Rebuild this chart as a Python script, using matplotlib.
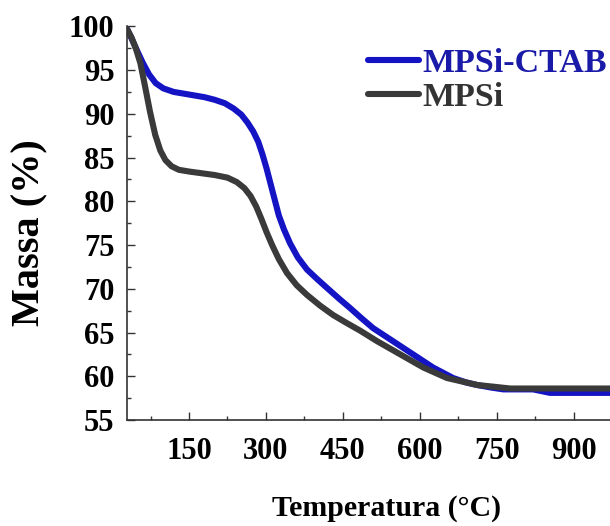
import matplotlib
matplotlib.use("Agg")
import matplotlib.pyplot as plt
from matplotlib.ticker import MultipleLocator

# Data (temperature in °C, mass in %)
temp_ctab = [29, 38, 48, 60, 72, 85, 100, 120, 140, 160, 180, 200, 220, 237, 252, 264, 275,
             285, 293, 301, 309, 317, 325, 335, 347, 362, 380, 400, 419, 442, 464, 487, 509,
             548, 587, 626, 665, 690, 712, 740, 763, 790, 821, 854, 890, 919, 971]
mass_ctab = [99.7, 98.6, 97.3, 95.8, 94.5, 93.5, 92.9, 92.5, 92.3, 92.1, 91.9, 91.6, 91.2, 90.6, 89.9,
             89.0, 88.0, 86.8, 85.4, 83.8, 82.0, 80.2, 78.4, 76.8, 75.2, 73.6, 72.2, 71.1, 70.1, 68.9,
             67.8, 66.6, 65.5, 64.0, 62.5, 61.0, 59.8, 59.3, 59.0, 58.7, 58.5, 58.5, 58.5, 58.1, 58.1,
             58.1, 58.1]

temp_mpsi = [29, 38, 46, 55, 64, 74, 84, 94, 104, 116, 130, 150, 175, 200, 225, 243, 258, 270,
             281, 291, 301, 312, 325, 341, 360, 380, 405, 431, 457, 484, 517, 562, 607, 653,
             690, 712, 745, 776, 820, 854, 900, 971]
mass_mpsi = [99.7, 98.7, 97.5, 95.8, 93.2, 90.2, 87.6, 85.8, 84.7, 84.0, 83.6, 83.4, 83.2, 83.0, 82.7,
             82.2, 81.5, 80.6, 79.4, 78.0, 76.5, 75.0, 73.4, 71.8, 70.4, 69.3, 68.1, 67.0, 66.1,
             65.2, 64.0, 62.5, 61.0, 59.8, 59.3, 59.0, 58.8, 58.6, 58.6, 58.6, 58.6, 58.6]

series_labels = ["MPSi-CTAB", "MPSi"]
x_ticks = [150, 300, 450, 600, 750, 900]
y_ticks = [55, 60, 65, 70, 75, 80, 85, 90, 95, 100]

blue = "#1414c4"
gray = "#3a3a3a"

plt.rcParams["font.family"] = ["Liberation Serif", "DejaVu Serif"]
plt.rcParams["font.weight"] = "bold"

fig = plt.figure(figsize=(6.1, 5.26), dpi=100)
ax = fig.add_axes([127 / 610, 1 - 420 / 526, 1 - 127 / 610, (420 - 26.3) / 526])

l1, = ax.plot(temp_ctab, mass_ctab, color=blue, lw=4.4, solid_capstyle="round",
              solid_joinstyle="round")
l2, = ax.plot(temp_mpsi, mass_mpsi, color=gray, lw=4.4, solid_capstyle="round",
              solid_joinstyle="round")

ax.set_xlim(29, 971)
ax.set_ylim(55, 100)
ax.set_xticks(x_ticks)
ax.set_yticks(y_ticks)
ax.xaxis.set_minor_locator(MultipleLocator(75))
ax.yaxis.set_minor_locator(MultipleLocator(2.5))

for s in ["top", "right"]:
    ax.spines[s].set_visible(False)
for s in ["left", "bottom"]:
    ax.spines[s].set_color("#333333")
    ax.spines[s].set_linewidth(1.2)

ax.tick_params(which="major", direction="in", length=6, width=1.0, color="#333333",
               labelsize=22, pad=9)
ax.tick_params(which="minor", direction="in", length=3, width=1.0, color="#333333")
ax.tick_params(axis="x", pad=12)
for lab in ax.get_xticklabels() + ax.get_yticklabels():
    lab.set_fontweight("bold")

ax.set_xlabel("Temperatura (°C)", fontsize=21.5, fontweight="bold")
ax.xaxis.set_label_coords((387 - 127) / 483, (420 - 508) / 393.7)
ax.xaxis.label.set_va("center")
ax.set_ylabel("Massa (%)", fontsize=29, fontweight="bold")
ax.yaxis.set_label_coords((30 - 127) / 483, (420 - 233) / 393.7)
ax.yaxis.label.set_va("center")

leg = ax.legend([l1, l2], series_labels, loc="upper left",
                bbox_to_anchor=((368 - 127) / 483, (420 - 48) / 393.7),
                frameon=False, handlelength=1.5, handletextpad=0.1,
                borderpad=0, borderaxespad=0, labelspacing=0.1,
                prop={"weight": "bold", "size": 24.5})
for t, c in zip(leg.get_texts(), ["#1a1aa8", "#333333"]):
    t.set_color(c)

fig.savefig("out.png", dpi=100)
